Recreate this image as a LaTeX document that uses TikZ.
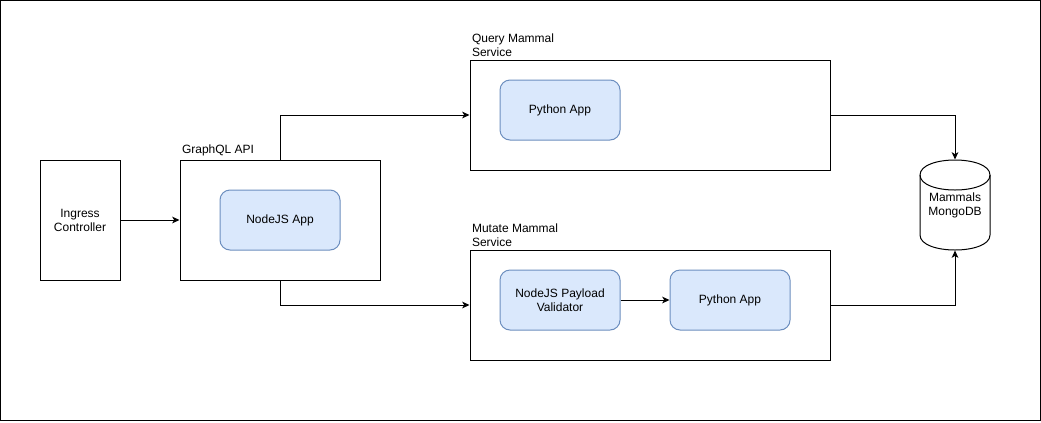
\documentclass[tikz,border=0pt]{standalone}
\usepackage{fontspec}
\setmainfont{Liberation Sans}
\usetikzlibrary{arrows.meta}

\definecolor{appFill}{HTML}{DAE8FC}
\definecolor{appDraw}{HTML}{6C8EBF}

\begin{document}
\begin{tikzpicture}[x=0.75pt, y=-0.75pt, line width=0.75pt,
            every node/.style={font=\fontsize{9}{10.5}\selectfont}]
            \tikzstyle{boxStyle} = [draw=black, fill=white, inner sep=0pt, align=center]
            \tikzstyle{appStyle} = [draw=appDraw, fill=appFill, rounded corners=7.5pt,
                                    minimum width=90pt, minimum height=45pt, inner sep=0pt, align=center]
            \tikzstyle{labelStyle} = [anchor=south west, align=left, inner xsep=1.5pt, inner ysep=2pt]
            \tikzstyle{blackEdge} = [draw=black, -{Stealth[length=5.5pt, width=5pt, inset=1.5pt]}]
            % frame
            \useasboundingbox (0,0) rectangle (1041,422);
            \draw (0.5,0.5) rectangle (1040.5,420.5);
            % boxes
            \node[boxStyle, minimum width=60pt, minimum height=90pt] (ingress) at (80,220) {Ingress\\Controller};
            \node[boxStyle, minimum width=150pt, minimum height=90pt] (gql) at (280,220) {};
            \node[appStyle] (nodeApp) at (280,220) {NodeJS App};
            \node[boxStyle, minimum width=270pt, minimum height=82.5pt] (query) at (650,115) {};
            \node[appStyle] (queryApp) at (560,110) {Python App};
            \node[boxStyle, minimum width=270pt, minimum height=82.5pt] (mutate) at (650,305) {};
            \node[appStyle] (validator) at (560,300) {NodeJS Payload\\Validator};
            \node[appStyle] (mutateApp) at (730,300) {Python App};
            % labels
            \node[labelStyle] (gqlLabel) at (gql.north west) {GraphQL API};
            \node[labelStyle] (queryLabel) at (query.north west) {Query Mammal\\Service};
            \node[labelStyle] (mutateLabel) at (mutate.north west) {Mutate Mammal\\Service};
            % database
            \node[minimum width=52.5pt, minimum height=67.5pt, inner sep=0pt, align=center] (db) at (955,205) {Mammals\\MongoDB};
            \draw (920,175) .. controls (920,155) and (990,155) .. (990,175) -- (990,235)
                  .. controls (990,255) and (920,255) .. (920,235) -- cycle;
            \draw (920,175) .. controls (920,195) and (990,195) .. (990,175);
            % edges
            \path[blackEdge] (ingress) edge (gql);
            \path[blackEdge] (validator) edge (mutateApp);
            \draw[blackEdge] (gql.north) |- (query.west);
            \draw[blackEdge] (gql.south) |- (mutate.west);
            \draw[blackEdge] (query.east) -| (db.north);
            \draw[blackEdge] (mutate.east) -| (db.south);
        \end{tikzpicture}
\end{document}
